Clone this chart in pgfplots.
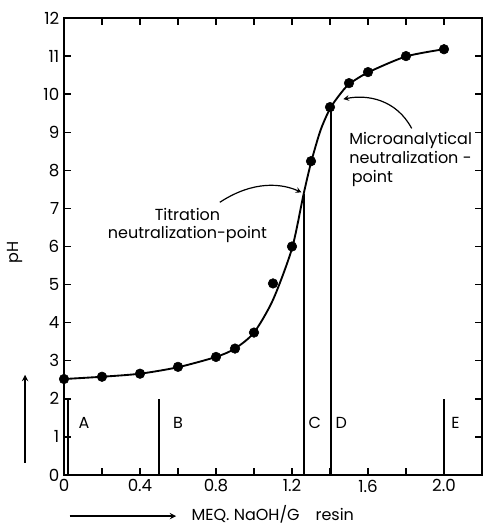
\documentclass[border=0pt]{standalone}
\usepackage{fontspec}
\setmainfont{Poppins}
\usepackage{pgfplots}
\pgfplotsset{compat=1.18}

% measured points
\pgfplotstableread{
x    ph
0.0  2.52
0.2  2.58
0.4  2.66
0.6  2.84
0.8  3.10
0.9  3.32
1.0  3.74
1.1  5.03
1.2  6.00
1.3  8.24
1.4  9.66
1.5  10.29
1.6  10.58
1.8  11.00
2.0  11.18
}\points

% drawn curve
\pgfplotstableread{
x    ph
0.0  2.52
0.2  2.58
0.4  2.66
0.6  2.83
0.8  3.10
0.9  3.32
1.0  3.74
1.1  4.60
1.2  5.95
1.26 7.35
1.3  8.20
1.35 9.05
1.4  9.62
1.45 9.98
1.5  10.26
1.6  10.57
1.8  10.99
2.0  11.18
}\curve

\begin{document}
\begin{tikzpicture}
\begin{axis}[
  at={(0,0)}, anchor=south west,
  scale only axis,
  width=313.5pt, height=342.75pt,
  xmin=0, xmax=2.2, ymin=0, ymax=12,
  axis line style={line width=1.1pt},
  every tick/.style={black, line width=1pt},
  major tick length=5pt, minor tick length=5pt,
  xtick={0,0.4,0.8,1.2,1.6,2.0},
  xticklabels={0,0.4,0.8,1.2,1.6,2.0},
  minor xtick={0.2,0.6,1.0,1.4,1.8},
  ytick={0,1,...,12},
  tick align=inside,
  xtick pos=both, ytick pos=both,
  xticklabel pos=bottom, yticklabel pos=left,
  /pgf/number format/assume math mode=true,
  tick label style={font=\fontsize{12.5}{14}\selectfont},
  clip=false,
]
\addplot[black, line width=1.4pt, smooth, tension=0.45] table[x=x,y=ph] {\curve};
\addplot[only marks, mark=*, mark size=3.6pt, black] table[x=x,y=ph] {\points};

% reference lines A-E
\addplot[black, line width=1.3pt] coordinates {(0.02,0) (0.02,2)};
\addplot[black, line width=1.3pt] coordinates {(0.5,0) (0.5,2)};
\addplot[black, line width=1.3pt] coordinates {(1.263,0) (1.263,7.38)};
\addplot[black, line width=1.3pt] coordinates {(1.405,0) (1.405,9.66)};
\addplot[black, line width=1.3pt] coordinates {(2.0,0) (2.0,2)};

\begin{scope}[font=\fontsize{12}{14}\selectfont]
\node at (axis cs:0.105,1.37) {A};
\node at (axis cs:0.60,1.37) {B};
\node at (axis cs:1.32,1.37) {C};
\node at (axis cs:1.46,1.37) {D};
\node at (axis cs:2.06,1.37) {E};

\node[align=center, inner sep=0pt] at (axis cs:0.65,6.55)
  {Titration\\neutralization-point};
\draw[-stealth, line width=0.9pt] (axis cs:0.82,7.16)
  .. controls (axis cs:1.0,7.75) and (axis cs:1.15,7.65) .. (axis cs:1.25,7.42);

\node[align=left, anchor=north west, inner sep=0pt] at (axis cs:1.5,9.0)
  {Microanalytical\\neutralization -\\\,point};
\draw[-stealth, line width=0.9pt] (axis cs:1.83,9.1)
  .. controls (axis cs:1.75,9.85) and (axis cs:1.6,10.0) .. (axis cs:1.47,9.87);

\node[rotate=90] at (axis cs:-0.257,5.84) {pH};
\draw[-stealth, line width=1.1pt] (axis cs:-0.205,0.32) -- (axis cs:-0.205,2.63);

\draw[-stealth, line width=1.1pt] (axis cs:0.03,-1.08) -- (axis cs:0.59,-1.08);
\node[anchor=base west, inner sep=0pt] at (axis cs:0.67,-1.2) {MEQ. NaOH/G\quad resin};
\end{scope}
\end{axis}
\pgfresetboundingbox
\path (-48pt,-37.5pt) rectangle (314.25pt,356.25pt);
\end{tikzpicture}
\end{document}
